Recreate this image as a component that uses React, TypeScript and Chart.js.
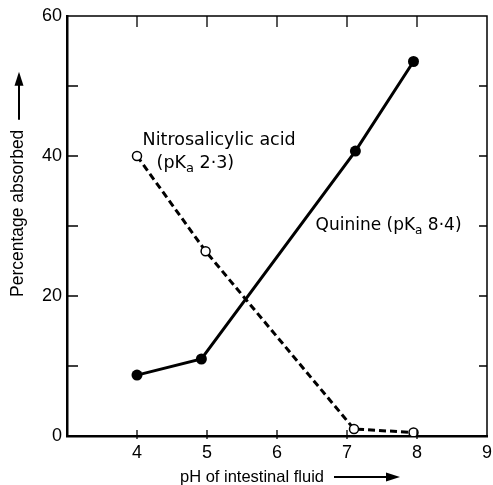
import React, { useEffect, useRef } from "react";
import { Chart, registerables } from "chart.js";

Chart.register(...registerables);

const quininePH = [4.0, 4.92, 7.12, 7.95];
const quinineAbs = [8.7, 11.0, 40.7, 53.5];
const nitroPH = [4.0, 4.98, 7.1, 7.95];
const nitroAbs = [40.0, 26.4, 1.0, 0.5];

const xTicksMin = 3;
const xTicksMax = 9;
const yTicksMin = 0;
const yTicksMax = 60;
const yLabelValues = [0, 20, 40, 60];

const xTitle = "pH of intestinal fluid";
const yTitle = "Percentage absorbed";

const FONT = "'Liberation Sans', Arial, sans-serif";
const NOTE_FONT = "'DejaVu Sans', sans-serif";

function drawSubLabel(ctx: CanvasRenderingContext2D, x: number, y: number, pre: string, sub: string, post: string, size: number) {
  ctx.font = `${size}px ${NOTE_FONT}`;
  ctx.textBaseline = "alphabetic";
  ctx.textAlign = "left";
  ctx.fillText(pre, x, y);
  let w = ctx.measureText(pre).width;
  ctx.font = `${Math.round(size * 0.72)}px ${NOTE_FONT}`;
  ctx.fillText(sub, x + w, y + size * 0.25);
  w += ctx.measureText(sub).width;
  ctx.font = `${size}px ${NOTE_FONT}`;
  ctx.fillText(post, x + w, y);
}

const decor = {
  id: "decor",
  afterDraw(chart: any) {
    const ctx: CanvasRenderingContext2D = chart.ctx;
    const xs = chart.scales.x;
    const ys = chart.scales.y;
    const { left, right, top, bottom } = chart.chartArea;
    ctx.save();
    ctx.strokeStyle = "#000";
    ctx.fillStyle = "#000";
    // top & right frame
    ctx.lineWidth = 1.5;
    ctx.beginPath();
    ctx.moveTo(left, top);
    ctx.lineTo(right, top);
    ctx.lineTo(right, bottom);
    ctx.stroke();
    // inward ticks
    ctx.lineWidth = 1.3;
    ctx.beginPath();
    for (let v = 10; v < yTicksMax; v += 10) {
      const py = ys.getPixelForValue(v);
      ctx.moveTo(left, py);
      ctx.lineTo(left + 11, py);
      ctx.moveTo(right, py);
      ctx.lineTo(right - 8, py);
    }
    for (let v = 4; v < xTicksMax; v += 1) {
      const px = xs.getPixelForValue(v);
      ctx.moveTo(px, top);
      ctx.lineTo(px, top + 11);
      ctx.moveTo(px, bottom + 3);
      ctx.lineTo(px, bottom - 6);
    }
    ctx.stroke();

    // annotations
    ctx.font = `17.5px ${NOTE_FONT}`;
    ctx.textBaseline = "alphabetic";
    ctx.textAlign = "left";
    ctx.fillText("Nitrosalicylic acid", xs.getPixelForValue(4.08), ys.getPixelForValue(41.6));
    drawSubLabel(ctx, xs.getPixelForValue(4.28), ys.getPixelForValue(38.3), "(pK", "a", " 2·3)", 17.5);
    drawSubLabel(ctx, xs.getPixelForValue(6.55), ys.getPixelForValue(29.4), "Quinine (pK", "a", " 8·4)", 17);

    // x title
    ctx.font = `16.5px ${FONT}`;
    ctx.textBaseline = "middle";
    ctx.fillText(xTitle, 180, 477);
    const xw = ctx.measureText(xTitle).width;
    const ax0 = 180 + xw + 10;
    ctx.lineWidth = 2;
    ctx.beginPath();
    ctx.moveTo(ax0, 477);
    ctx.lineTo(ax0 + 58, 477);
    ctx.stroke();
    ctx.beginPath();
    ctx.moveTo(ax0 + 66, 477);
    ctx.lineTo(ax0 + 52, 472.5);
    ctx.lineTo(ax0 + 52, 481.5);
    ctx.closePath();
    ctx.fill();

    // y title
    ctx.save();
    ctx.translate(18, 297);
    ctx.rotate(-Math.PI / 2);
    ctx.font = `17.5px ${FONT}`;
    ctx.textBaseline = "middle";
    ctx.fillText(yTitle, 0, 0);
    const yw = ctx.measureText(yTitle).width;
    const ay0 = yw + 10;
    ctx.beginPath();
    ctx.moveTo(ay0, 1);
    ctx.lineTo(ay0 + 40, 1);
    ctx.stroke();
    ctx.beginPath();
    ctx.moveTo(ay0 + 48, 1);
    ctx.lineTo(ay0 + 34, -3.5);
    ctx.lineTo(ay0 + 34, 5.5);
    ctx.closePath();
    ctx.fill();
    ctx.restore();

    ctx.restore();
  },
};

export default function App() {
  const ref = useRef<HTMLCanvasElement>(null);
  useEffect(() => {
    document.body.style.margin = "0";
    const canvas = ref.current!;
    const chart = new Chart(canvas, {
      type: "scatter",
      data: {
        datasets: [
          {
            label: "Quinine",
            data: quininePH.map((x, i) => ({ x, y: quinineAbs[i] })),
            showLine: true,
            borderColor: "#000",
            backgroundColor: "#000",
            borderWidth: 3,
            pointRadius: 5.5,
            pointBackgroundColor: "#000",
            pointBorderWidth: 0,
          },
          {
            label: "Nitrosalicylic acid",
            data: nitroPH.map((x, i) => ({ x, y: nitroAbs[i] })),
            showLine: true,
            borderColor: "#000",
            backgroundColor: "#fff",
            borderWidth: 3,
            borderDash: [7, 4],
            pointRadius: 4.5,
            pointBackgroundColor: "#fff",
            pointBorderColor: "#000",
            pointBorderWidth: 1.5,
          },
        ],
      },
      options: {
        animation: false,
        responsive: false,
        maintainAspectRatio: false,
        layout: { padding: { left: 0, right: 3, top: 16, bottom: 0 } },
        plugins: { legend: { display: false }, tooltip: { enabled: false } },
        scales: {
          x: {
            type: "linear",
            min: xTicksMin,
            max: xTicksMax,
            grid: { display: false, drawTicks: false },
            border: { display: true, color: "#000", width: 2.5 },
            ticks: {
              stepSize: 1,
              padding: 6,
              color: "#000",
              font: { family: FONT, size: 18 },
              callback: (v: any) => (v === xTicksMin ? "" : String(v)),
            },
            afterFit: (s: any) => {
              s.height = 49;
              s.paddingLeft = 0;
              s.paddingRight = 0;
            },
          },
          y: {
            min: yTicksMin,
            max: yTicksMax,
            grid: { display: false, drawTicks: false },
            border: { display: true, color: "#000", width: 2.5 },
            ticks: {
              stepSize: 10,
              padding: 5,
              color: "#000",
              font: { family: FONT, size: 18 },
              callback: (v: any) => (yLabelValues.includes(v) ? String(v) : ""),
            },
            afterFit: (s: any) => {
              s.width = 67;
              s.paddingTop = 0;
              s.paddingBottom = 0;
            },
          },
        },
      },
      plugins: [decor],
    });
    return () => chart.destroy();
  }, []);
  return <canvas ref={ref} width={493} height={485} style={{ display: "block" }} />;
}
